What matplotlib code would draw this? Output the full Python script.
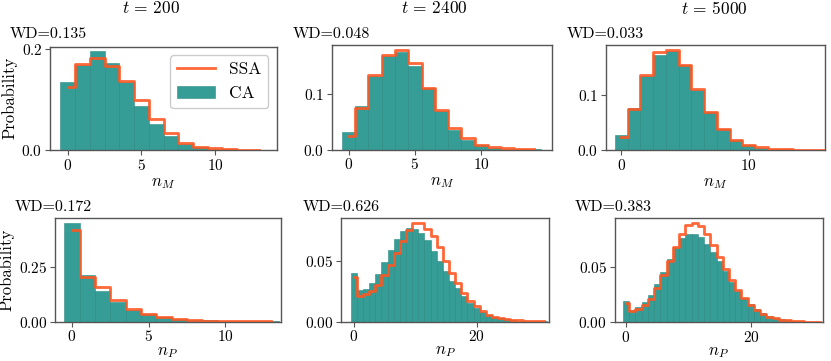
import numpy as np
import matplotlib
matplotlib.use("Agg")
import matplotlib.pyplot as plt

plt.rcParams["font.family"] = "cmr10"
plt.rcParams["mathtext.fontset"] = "cm"
plt.rcParams["axes.formatter.use_mathtext"] = True

# ---- data (probability per count) ----
times = ["200", "2400", "5000"]
wd_m = ["0.135", "0.048", "0.033"]
wd_p = ["0.172", "0.626", "0.383"]

# mRNA (n_M), t = 200
ca_m_200 = [0.135, 0.169, 0.195, 0.173, 0.135, 0.088, 0.052, 0.027, 0.011, 0.005, 0.002, 0.001, 0.0006, 0.0003]
ssa_m_200 = [0.124, 0.171, 0.182, 0.166, 0.137, 0.098, 0.062, 0.033, 0.014, 0.0065, 0.003, 0.0013, 0.0007, 0.0003]
# t = 2400
ca_m_2400 = [0.031, 0.078, 0.133, 0.169, 0.177, 0.151, 0.111, 0.069, 0.036, 0.018, 0.008, 0.0036, 0.0015, 0.0007, 0.0003]
ssa_m_2400 = [0.025, 0.075, 0.135, 0.171, 0.180, 0.156, 0.112, 0.072, 0.039, 0.021, 0.009, 0.0048, 0.0024, 0.001, 0.0005]
# t = 5000
ca_m_5000 = [0.027, 0.076, 0.135, 0.173, 0.180, 0.155, 0.110, 0.070, 0.039, 0.018, 0.009, 0.004, 0.002, 0.001, 0.0005, 0.0002]
ssa_m_5000 = [0.024, 0.075, 0.136, 0.178, 0.182, 0.155, 0.111, 0.070, 0.039, 0.018, 0.009, 0.0048, 0.0024, 0.0012, 0.0006, 0.0003, 0.0001]

# protein (n_P), t = 200
ca_p_200 = [0.450, 0.215, 0.139, 0.089, 0.053, 0.033, 0.021, 0.0136, 0.009, 0.006, 0.004, 0.003, 0.002, 0.001]
ssa_p_200 = [0.417, 0.203, 0.158, 0.100, 0.056, 0.033, 0.023, 0.0136, 0.009, 0.0045, 0.003, 0.002, 0.0015, 0.001]
# t = 2400
ca_p_2400 = [0.040, 0.026, 0.027, 0.0317, 0.039, 0.0486, 0.0585, 0.0678, 0.0746, 0.0768, 0.0762, 0.0727,
             0.0672, 0.0582, 0.0495, 0.0418, 0.0336, 0.0276, 0.0208, 0.0153, 0.0112, 0.0077, 0.0057,
             0.0038, 0.0027, 0.0019, 0.0014, 0.0008, 0.0005, 0.0003, 0.0002, 0.0001]
ssa_p_2400 = [0.0366, 0.0213, 0.0227, 0.0254, 0.0303, 0.038, 0.0462, 0.0563, 0.0664, 0.0754, 0.0809, 0.0809,
              0.0762, 0.070, 0.0612, 0.050, 0.040, 0.0317, 0.0235, 0.0172, 0.0126, 0.0085, 0.0057,
              0.0038, 0.0027, 0.0019, 0.0013, 0.0009, 0.0006, 0.0004, 0.0002, 0.0001]
# t = 5000
ca_p_5000 = [0.019, 0.0108, 0.0139, 0.0178, 0.0244, 0.0343, 0.0455, 0.0575, 0.068, 0.0762, 0.0795, 0.080,
             0.0771, 0.071, 0.0636, 0.0551, 0.0461, 0.0364, 0.028, 0.0214, 0.016, 0.0114, 0.0078,
             0.0054, 0.0036, 0.0024, 0.0015, 0.001, 0.0006, 0.0004, 0.0002, 0.0001]
ssa_p_5000 = [0.0175, 0.0099, 0.0117, 0.0154, 0.0205, 0.0304, 0.0425, 0.0555, 0.068, 0.080, 0.0877, 0.0898,
              0.0867, 0.080, 0.070, 0.059, 0.0479, 0.038, 0.0289, 0.0214, 0.0154, 0.0108, 0.0072,
              0.0048, 0.0033, 0.0021, 0.0014, 0.0009, 0.0006, 0.0004, 0.0002, 0.0001]

ca_color = "#2b9791"
ssa_color = "#ff5722"

W, H = 831, 361
fig = plt.figure(figsize=(W / 100, H / 100), dpi=100)


def px_axes(x0, x1, y0, y1):
    # pixel box (top-left origin) -> figure axes
    return fig.add_axes([x0 / W, (H - y1) / H, (x1 - x0) / W, (y1 - y0) / H])


panels = [
    # (box, ca, ssa, xlim, xticks, yticks, xlabel, wd, wd_xy)
    ((50, 277, 46.5, 150), ca_m_200, ssa_m_200, (-1.2, 14.2), [0, 5, 10], [0, 0.2], r"$n_M$", wd_m[0], (10, 34)),
    ((332, 551.5, 45, 149.5), ca_m_2400, ssa_m_2400, (-1.25, 15.3), [0, 5, 10], [0, 0.1], r"$n_M$", wd_m[1], (293, 34)),
    ((606, 825, 45, 150), ca_m_5000, ssa_m_5000, (-1.2, 16.0), [0, 10], [0, 0.1], r"$n_M$", wd_m[2], (567, 34)),
    ((55, 280.5, 218, 321.7), ca_p_200, ssa_p_200, (-1.1, 13.6), [0, 5, 10], [0, 0.25], r"$n_P$", wd_p[0], (15, 207.5)),
    ((341, 549, 218, 321.5), ca_p_2400, ssa_p_2400, (-2.1, 31.8), [0, 20], [0, 0.05], r"$n_P$", wd_p[1], (303, 207.5)),
    ((614.7, 822.7, 218, 322), ca_p_5000, ssa_p_5000, (-1.8, 31.5), [0, 20], [0, 0.05], r"$n_P$", wd_p[2], (575, 207.5)),
]

axes = []
for i, (box, ca, ssa, xlim, xt, yt, xl, wd, wd_xy) in enumerate(panels):
    ax = px_axes(*box)
    n_ca = np.arange(len(ca))
    n_ssa = np.arange(len(ssa))
    ax.bar(n_ca, ca, width=1.0, color=ca_color, edgecolor="#26877f", linewidth=0.4, alpha=0.95, label="CA")
    ax.step(n_ssa, ssa, where="mid", color=ssa_color, lw=2.0, alpha=0.9, label="SSA", zorder=3)
    ax.set_xlim(*xlim)
    ax.set_xticks(xt)
    ax.set_yticks(yt)
    ax.set_xlabel(xl, fontsize=12, labelpad=2 if i < 3 else 0)
    ax.tick_params(labelsize=11, length=3.5, width=0.8, color="#555555", pad=2)
    for s in ax.spines.values():
        s.set_color("#555555")
        s.set_linewidth(1.0)
    if i % 3 == 0:
        ax.set_ylabel("Probability", fontsize=12, labelpad=3)
    fig.text(wd_xy[0] / W, 1 - wd_xy[1] / H, "WD=" + wd, fontsize=11.5, ha="left", va="center")
    axes.append(ax)

# legend in the first panel: SSA line first, then CA bars
h, l = axes[0].get_legend_handles_labels()
order = [l.index("SSA"), l.index("CA")]
axes[0].legend([h[k] for k in order], [l[k] for k in order], loc="upper right", fontsize=12.5,
               handlelength=2.2, framealpha=1.0)

# column titles
for t, xc in zip(times, [151, 434, 714]):
    fig.text(xc / W, 1 - 8 / H, r"$t\,=\,%s$" % t, fontsize=12.5, ha="center", va="center")

fig.savefig("out.png", dpi=100)
